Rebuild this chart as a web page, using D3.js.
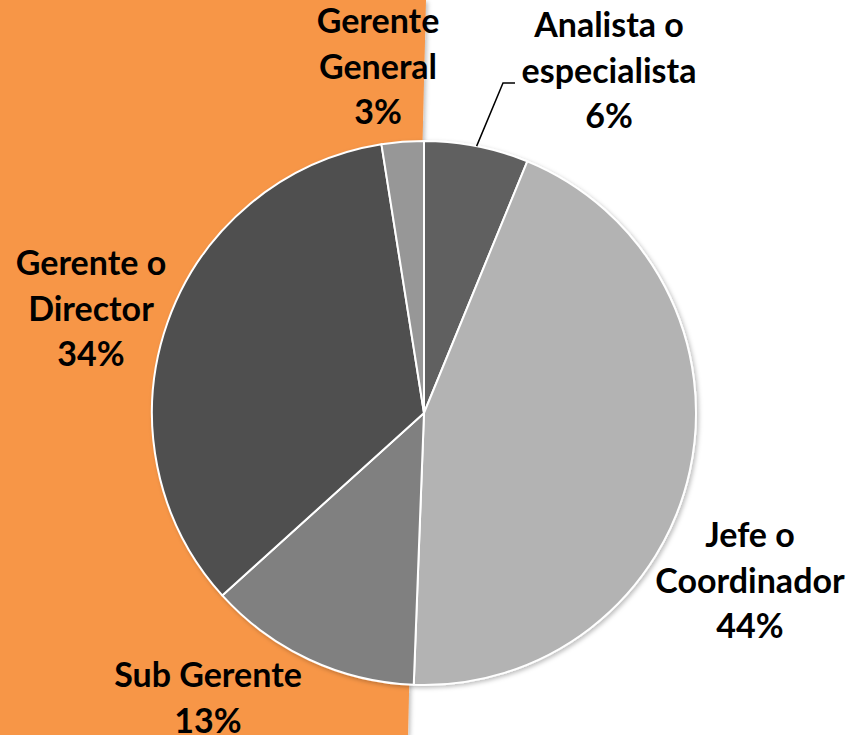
<!DOCTYPE html>
<html lang="es">
  <head>
    <meta charset="UTF-8" />
    <title>Cargo</title>
    <style>
      body {
        margin: 0;
        background: #fff;
      }
      text {
        font-family: Lato, "Open Sans", sans-serif;
        font-weight: bold;
        font-size: 34px;
        fill: #000;
      }
    </style>
  </head>
  <body>
    <svg id="chart" width="850" height="735"></svg>
  </body>
  <script src="https://cdn.jsdelivr.net/npm/d3@7"></script>
  <script>
    // data (clockwise from 12 o'clock)
    const categories = [
      "Analista o especialista",
      "Jefe o Coordinador",
      "Sub Gerente",
      "Gerente o Director",
      "Gerente General",
    ];
    const values = [6.2, 44.4, 12.7, 34.2, 2.5];
    const labelLines = [
      ["Analista o", "especialista"],
      ["Jefe o", "Coordinador"],
      ["Sub Gerente"],
      ["Gerente o", "Director"],
      ["Gerente", "General"],
    ];
    const colors = ["#616161", "#b3b3b3", "#808080", "#4f4f4f", "#979797"];

    // label anchor (centre x, first baseline y) chosen to match the layout
    const labelAnchor = [
      [609, 37],
      [750, 547],
      [208, 687],
      [91, 275],
      [378, 33],
    ];

    const width = 850,
      height = 735,
      cx = 424,
      cy = 413,
      radius = 272,
      lineH = 45.5;

    const svg = d3.select("#chart");

    const defs = svg.append("defs");
    const shadow = defs
      .append("filter")
      .attr("id", "shadow")
      .attr("x", "-10%")
      .attr("y", "-10%")
      .attr("width", "130%")
      .attr("height", "130%");
    shadow
      .append("feDropShadow")
      .attr("dx", 2)
      .attr("dy", 2)
      .attr("stdDeviation", 2)
      .attr("flood-color", "#000")
      .attr("flood-opacity", 0.25);

    // orange band on the left
    svg
      .append("path")
      .attr("d", d3.line()([[0, 0], [426, 0], [408, height], [0, height]]))
      .attr("fill", "#f79646")
      .attr("filter", "url(#shadow)");

    const pie = d3.pie().sort(null).value((d) => d);
    const arcs = pie(values);
    const arc = d3.arc().innerRadius(0).outerRadius(radius);

    const g = svg.append("g").attr("transform", `translate(${cx},${cy})`);

    g.append("g")
      .attr("filter", "url(#shadow)")
      .selectAll("path")
      .data(arcs)
      .join("path")
      .attr("d", arc)
      .attr("fill", (d, i) => colors[i])
      .attr("stroke", "#fff")
      .attr("stroke-width", 2)
      .attr("stroke-linejoin", "round");

    // leader line for the small first slice
    const a0 = arcs[0];
    const mid = (a0.startAngle + a0.endAngle) / 2;
    const edge = [
      cx + Math.sin(mid) * radius,
      cy - Math.cos(mid) * radius,
    ];
    svg
      .append("path")
      .attr("d", d3.line()([edge, [503, 83], [515, 83]]))
      .attr("fill", "none")
      .attr("stroke", "#000")
      .attr("stroke-width", 1.5);

    const fmt = d3.format(".0f");
    const labels = svg
      .selectAll("text.label")
      .data(arcs)
      .join("text")
      .attr("class", "label")
      .attr("text-anchor", "middle")
      .attr("x", (d, i) => labelAnchor[i][0])
      .attr("y", (d, i) => labelAnchor[i][1]);

    labels.each(function (d, i) {
      const lines = labelLines[i].concat([fmt(d.value) + "%"]);
      d3.select(this)
        .selectAll("tspan")
        .data(lines)
        .join("tspan")
        .attr("x", labelAnchor[i][0])
        .attr("dy", (t, j) => (j === 0 ? 0 : lineH))
        .text((t) => t);
    });
  </script>
</html>
